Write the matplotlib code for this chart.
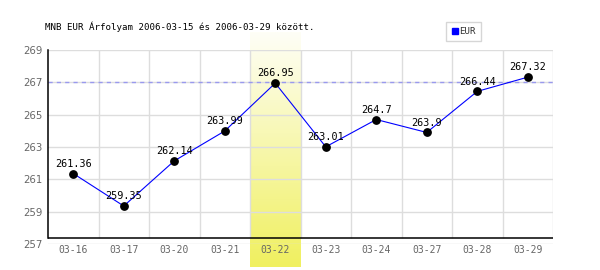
import matplotlib
matplotlib.use("Agg")
import matplotlib.pyplot as plt
import numpy as np
from matplotlib.colors import LinearSegmentedColormap

# adatok
dates = ["03-16", "03-17", "03-20", "03-21", "03-22",
         "03-23", "03-24", "03-27", "03-28", "03-29"]
eur = [261.36, 259.35, 262.14, 263.99, 266.95,
       263.01, 264.7, 263.9, 266.44, 267.32]
y_ticks = [257, 259, 261, 263, 265, 267, 269]
highlight_idx = 4
ref_level = 267
title = "MNB EUR Árfolyam 2006-03-15 és 2006-03-29 között."

plt.rcParams['font.family'] = ['DejaVu Sans Mono']

fig = plt.figure(figsize=(6, 2.7), dpi=100)
ax = fig.add_axes([48 / 600, 1 - 244 / 270, 505 / 600, 194 / 270])
x = np.arange(len(dates))
ax.set_xlim(-0.5, len(dates) - 0.5)
ax.set_ylim(y_ticks[0], y_ticks[-1])
axis_y = 257.37

for s in ax.spines.values():
    s.set_visible(False)

# rács
for yv in y_ticks:
    ax.axhline(yv, color="#dddddd", lw=1, zorder=1)
ax.vlines(x[:-1] + 0.5, axis_y, y_ticks[-1], color="#dddddd", lw=1, zorder=1)
ax.vlines([len(dates) - 0.5], axis_y, y_ticks[-1], color="#dddddd", lw=1, zorder=1)

# kiemelt nap sávja
cmap = LinearSegmentedColormap.from_list("hl", ["#fefef6", "#f0f060"])
grad = np.linspace(0, 1, 100).reshape(-1, 1)
ax.imshow(grad, cmap=cmap, aspect="auto", origin="upper",
          extent=(highlight_idx - 0.5, highlight_idx + 0.5, 255.55, 270.05),
          clip_on=False, zorder=0.5)

ax.axhline(ref_level, color="#9999ee", lw=1, ls=(0, (3, 3)), zorder=2)

# tengelyek
ax.plot([-0.5, -0.5], [axis_y, y_ticks[-1]], color="black", lw=1.1, zorder=3, clip_on=False)
ax.axhline(axis_y, color="black", lw=1.1, zorder=3)

ax.plot(x, eur, color="#0000ff", lw=0.8, zorder=4)
ax.scatter(x, eur, s=28, color="black", zorder=5)
for xi, v in zip(x, eur):
    ax.annotate(f"{v:g}", (xi, v), xytext=(0, 3.5), textcoords="offset points",
                ha="center", va="bottom", fontsize=7.3, color="black", zorder=6)

ax.set_yticks(y_ticks)
ax.set_yticklabels([str(v) for v in y_ticks], color="#666666", fontsize=7.3,
                   family="DejaVu Sans")
ax.set_xticks(x)
ax.set_xticklabels(dates, color="#666666", fontsize=7)
ax.tick_params(axis="y", length=0, pad=4)
ax.tick_params(axis="x", length=0, pad=1)

fig.text(45 / 600, 1 - 27 / 270, title, fontsize=6.6, va="center", ha="left")

# jelmagyarázat
leg = ax.legend([plt.Line2D([], [], marker="s", ls="", color="#0000ff", markersize=4.5)],
                ["EUR"], loc="upper left", bbox_to_anchor=(446 / 600, 1 - 22 / 270),
                bbox_transform=fig.transFigure, fontsize=6.6, frameon=True,
                handletextpad=0.1, borderpad=0.55, borderaxespad=0, handlelength=0.8,
                fancybox=False)
leg.get_frame().set_edgecolor("#cccccc")
leg.get_frame().set_linewidth(1)
for t in leg.get_texts():
    t.set_color("#333333")

fig.savefig("out.png", dpi=100)
